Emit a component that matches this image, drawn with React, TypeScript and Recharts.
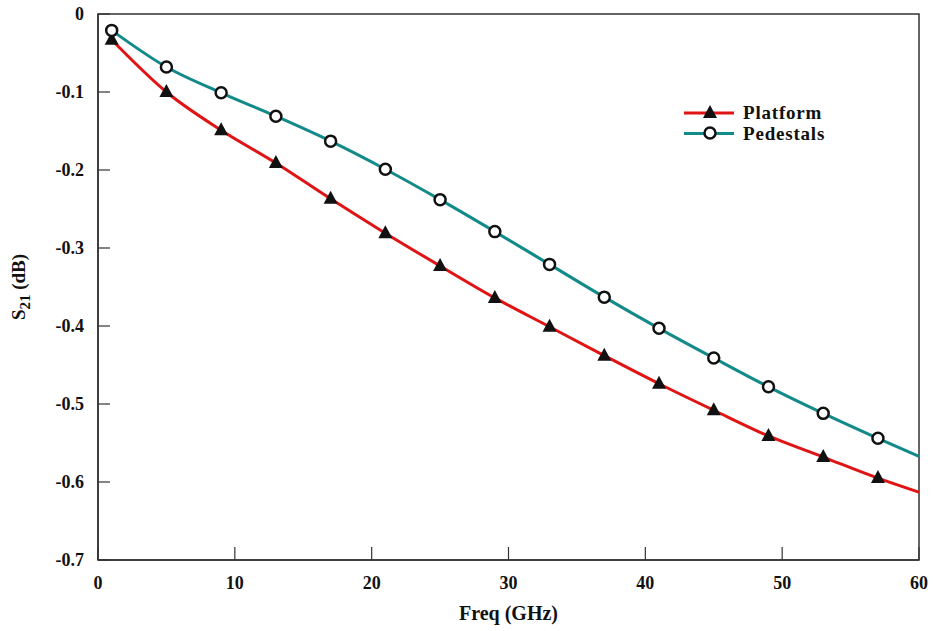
import {
  LineChart,
  Line,
  XAxis,
  YAxis,
  ReferenceArea,
} from "recharts";

// sample frequencies in GHz (last point only continues the curve, no marker)
const freqs = [1, 5, 9, 13, 17, 21, 25, 29, 33, 37, 41, 45, 49, 53, 57, 60];
const platform = [
  -0.033, -0.1, -0.149, -0.191, -0.237, -0.281, -0.323, -0.364, -0.401, -0.438,
  -0.474, -0.508, -0.541, -0.568, -0.595, -0.613,
];
const pedestals = [
  -0.021, -0.068, -0.101, -0.131, -0.163, -0.199, -0.238, -0.279, -0.321,
  -0.363, -0.403, -0.441, -0.478, -0.512, -0.544, -0.567,
];
const xTicks = [0, 10, 20, 30, 40, 50, 60];
const yTicks = [0, -0.1, -0.2, -0.3, -0.4, -0.5, -0.6, -0.7];

const FONT = '"Liberation Serif", "Times New Roman", serif';
const RED = "#e01414";
const TEAL = "#138a8a";

const chartData = freqs.map((f, i) => ({
  freq: f,
  platform: platform[i],
  pedestals: pedestals[i],
}));

interface DotProps {
  cx?: number;
  cy?: number;
  index?: number;
}

function Triangle({ cx = 0, cy = 0 }: { cx?: number; cy?: number }) {
  return (
    <polygon
      points={`${cx},${cy - 8} ${cx - 7},${cy + 5} ${cx + 7},${cy + 5}`}
      fill="#111"
    />
  );
}

function Ring({ cx = 0, cy = 0 }: { cx?: number; cy?: number }) {
  return <circle cx={cx} cy={cy} r={5.5} fill="#fff" stroke="#111" strokeWidth={2.5} />;
}

const triangleDot = (props: DotProps) =>
  props.index === freqs.length - 1 ? (
    <g key={`t${props.index}`} />
  ) : (
    <Triangle key={`t${props.index}`} cx={props.cx} cy={props.cy} />
  );

const ringDot = (props: DotProps) =>
  props.index === freqs.length - 1 ? (
    <g key={`r${props.index}`} />
  ) : (
    <Ring key={`r${props.index}`} cx={props.cx} cy={props.cy} />
  );

// legend drawn as an overlay so it takes no room from the plot
function ChartLegend() {
  const rows = [
    { name: "Platform", color: RED, mark: <Triangle cx={26} cy={11} /> },
    { name: "Pedestals", color: TEAL, mark: <Ring cx={26} cy={31} /> },
  ];
  return (
    <svg width={190} height={50} style={{ position: "absolute", left: 684, top: 102 }}>
      {rows.map((r, i) => (
        <g key={r.name}>
          <line x1={0} x2={50} y1={11 + i * 20.5} y2={11 + i * 20.5} stroke={r.color} strokeWidth={3} />
          {r.mark}
          <text
            x={59}
            y={17 + i * 20.5}
            fontFamily={FONT}
            fontWeight="bold"
            fontSize={19}
            letterSpacing={0.8}
            fill="#111"
          >
            {r.name}
          </text>
        </g>
      ))}
    </svg>
  );
}

export default function App() {
  return (
    <div style={{ position: "absolute", left: 0, top: 0, background: "#fff" }}>
      <LineChart
        width={935}
        height={631}
        data={chartData}
        margin={{ top: 14, right: 16, bottom: 0, left: 0 }}
      >
        <XAxis
          dataKey="freq"
          type="number"
          domain={[0, 60]}
          ticks={xTicks}
          height={71}
          tickSize={-13}
          tickMargin={29}
          axisLine={{ stroke: "#333", strokeWidth: 1.5 }}
          tickLine={{ stroke: "#333", strokeWidth: 1.2 }}
          tick={{ fill: "#111", fontFamily: FONT, fontWeight: "bold", fontSize: 18 }}
          label={{
            value: "Freq (GHz)",
            position: "insideBottom",
            offset: 11,
            fill: "#111",
            fontFamily: FONT,
            fontWeight: "bold",
            fontSize: 20,
          }}
        />
        <YAxis
          type="number"
          domain={[-0.7, 0]}
          ticks={yTicks}
          width={98}
          tickSize={-12}
          tickMargin={26}
          tickFormatter={(v: number) => (v === 0 ? "0" : v.toFixed(1))}
          axisLine={{ stroke: "#333", strokeWidth: 1.5 }}
          tickLine={{ stroke: "#333", strokeWidth: 1.2 }}
          tick={{ fill: "#111", fontFamily: FONT, fontWeight: "bold", fontSize: 18 }}
          label={({ viewBox }: { viewBox?: { x: number; y: number; height: number } }) => {
            const cy = (viewBox?.y ?? 14) + (viewBox?.height ?? 546) / 2;
            return (
              <text
                x={0}
                y={0}
                transform={`translate(25, ${cy}) rotate(-90)`}
                textAnchor="middle"
                fontFamily={FONT}
                fontWeight="bold"
                fontSize={19}
                fill="#111"
              >
                S<tspan fontSize={15} dy={5}>21</tspan>
                <tspan dy={-5}> (dB)</tspan>
              </text>
            );
          }}
        />
        <ReferenceArea
          x1={0}
          x2={60}
          y1={-0.7}
          y2={0}
          fill="none"
          stroke="#333"
          strokeWidth={1.5}
          ifOverflow="visible"
        />
        <Line
          type="monotone"
          dataKey="platform"
          name="Platform"
          stroke={RED}
          strokeWidth={3}
          dot={triangleDot}
          activeDot={false}
          isAnimationActive={false}
        />
        <Line
          type="monotone"
          dataKey="pedestals"
          name="Pedestals"
          stroke={TEAL}
          strokeWidth={3}
          dot={ringDot}
          activeDot={false}
          isAnimationActive={false}
        />
      </LineChart>
      <ChartLegend />
    </div>
  );
}
